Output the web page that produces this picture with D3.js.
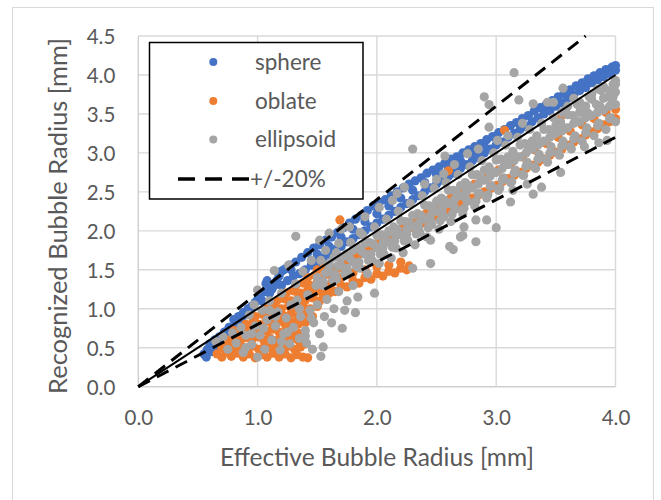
<!DOCTYPE html>
<html>
<head>
<meta charset="utf-8">
<script src="https://cdn.jsdelivr.net/npm/d3@7"></script>
<style>
  body { margin: 0; background: #fff; }
  svg { display: block; }
  text { font-family: Lato, "Open Sans", sans-serif; fill: #595959; }
</style>
</head>
<body>
<svg id="chart" width="661" height="500"></svg>
<script>
// Axis ticks
const xTicks = [0, 1, 2, 3, 4];
const yTicks = [0, 0.5, 1, 1.5, 2, 2.5, 3, 3.5, 4, 4.5];

// Legend entries
const legendLabels = ["sphere", "oblate", "ellipsoid", "+/-20%"];

// Reference lines: identity and +/-20 % bounds
const identityLine = [[0, 0], [4, 4]];
const upperBound = [[0, 0], [3.75, 4.5]];
const lowerBound = [[0, 0], [4, 3.2]];

// Effective vs. recognized bubble radius [mm]
const sphere = [
  [0.55,0.42],[0.57,0.38],[0.58,0.48],[0.6,0.55],[0.62,0.45],[0.64,0.6],[0.66,0.52],[0.68,0.64],[0.7,0.6],[0.72,0.7],
  [0.74,0.66],[0.76,0.76],[0.78,0.72],[0.8,0.86],[0.82,0.8],[0.84,0.9],[0.86,0.85],[0.88,0.95],[0.9,0.92],[0.92,1.0],
  [0.95,1.03],[0.98,1.08],[1.0,1.12],[1.02,1.16],[1.04,1.1],[1.06,1.22],[1.07,1.32],[1.08,1.36],[1.09,1.28],[1.1,1.2],
  [1.12,1.25],[1.14,1.3],[1.16,1.36],[1.18,1.42],[1.2,1.48],[1.24,1.52],[1.28,1.5],
  [1.2,1.3],[1.25,1.36],[1.3,1.42],[1.35,1.45],[1.4,1.5],[1.45,1.56],[1.5,1.6],[1.55,1.65],[1.6,1.7],[1.65,1.76],
  [1.7,1.8],[1.75,1.86],[1.8,1.9],[1.85,1.95],[1.9,2.0],[1.95,2.05],[2.0,2.1],[2.05,2.15],[2.1,2.2],[2.15,2.25],
  [2.2,2.3],[2.25,2.35],[2.3,2.4],[2.35,2.45],[2.4,2.5],[2.45,2.55],[2.5,2.6],[2.55,2.65],[2.6,2.7],[2.65,2.74],
  [2.7,2.8],[2.75,2.85],[2.8,2.9],[2.85,2.94],[2.9,3.0],[2.95,3.05],[3.0,3.1],[3.05,3.14],[3.1,3.2],[3.15,3.25],
  [3.2,3.3],[3.25,3.34],[3.3,3.4],[3.35,3.45],[3.4,3.5],[3.45,3.54],[3.5,3.6],[3.55,3.64],[3.6,3.7],[3.65,3.74],
  [3.7,3.8],[3.75,3.84],[3.8,3.9],[3.85,3.94],[3.9,3.98],[3.95,4.02],[4.0,4.06],
  [1.22,1.5],[1.27,1.56],[1.32,1.6],[1.37,1.66],[1.42,1.72],[1.47,1.78],[1.52,1.82],[1.57,1.88],[1.62,1.92],[1.67,1.98],
  [1.72,2.04],[1.77,2.1],[1.82,2.15],[1.87,2.2],[1.92,2.26],[1.97,2.32],[2.02,2.36],[2.07,2.4],[2.12,2.45],[2.17,2.5],
  [2.22,2.55],[2.27,2.6],[2.32,2.64],[2.37,2.68],[2.42,2.74],[2.47,2.78],[2.52,2.82],[2.57,2.87],[2.62,2.92],[2.67,2.95],
  [2.72,3.0],[2.77,3.04],[2.82,3.08],[2.87,3.12],[2.92,3.17],[2.97,3.21],[3.02,3.26],[3.07,3.3],[3.12,3.35],[3.17,3.39],
  [3.22,3.44],[3.27,3.48],[3.32,3.54],[3.37,3.58],[3.42,3.62],[3.47,3.67],[3.52,3.72],[3.57,3.76],[3.62,3.81],[3.67,3.86],
  [3.72,3.9],[3.77,3.95],[3.82,3.99],[3.87,4.03],[3.92,4.07],[3.97,4.1],[4.0,4.12],
  [1.5,1.7],[1.6,1.8],[1.7,1.92],[1.8,2.02],[1.9,2.12],[2.0,2.22],[2.1,2.32],[2.2,2.42],[2.3,2.52],[2.4,2.62],
  [2.5,2.72],[2.6,2.82],[2.7,2.9],[2.8,3.0],[2.9,3.08],[3.0,3.18],[3.2,3.38],[3.4,3.56],[3.6,3.76]
];

const oblate = [
  [0.66,0.42],[0.7,0.38],[0.74,0.44],[0.78,0.39],[0.83,0.43],[0.88,0.38],[0.93,0.42],[0.98,0.37],[1.03,0.41],[1.08,0.38],
  [1.13,0.43],[1.18,0.38],[1.23,0.42],[1.28,0.37],[1.33,0.41],[1.38,0.38],[1.42,0.37],
  [0.7,0.5],[0.76,0.52],[0.81,0.49],[0.86,0.53],[0.91,0.5],[0.96,0.52],[1.01,0.48],[1.06,0.53],[1.11,0.5],[1.16,0.54],
  [1.21,0.49],[1.26,0.52],[1.31,0.48],[1.36,0.51],
  [0.74,0.6],[0.8,0.62],[0.85,0.59],[0.9,0.63],[0.95,0.6],[1.0,0.64],[1.05,0.6],[1.1,0.63],[1.15,0.59],[1.2,0.64],
  [1.25,0.6],[1.3,0.62],[1.35,0.58],[1.4,0.55],
  [0.8,0.72],[0.86,0.7],[0.92,0.73],[0.97,0.7],[1.02,0.74],[1.08,0.71],[1.13,0.74],[1.18,0.7],[1.24,0.73],[1.3,0.7],[1.35,0.68],
  [0.9,0.8],[0.96,0.83],[1.01,0.8],[1.07,0.84],[1.12,0.81],[1.18,0.84],[1.23,0.8],[1.29,0.83],[1.34,0.8],[1.4,0.82],
  [0.98,0.9],[1.04,0.93],[1.1,0.9],[1.16,0.94],[1.22,0.91],[1.28,0.94],[1.34,0.9],[1.4,0.93],[1.46,0.9],
  [1.08,1.0],[1.14,1.03],[1.2,1.0],[1.26,1.04],[1.32,1.01],[1.38,1.04],[1.44,1.0],[1.5,1.03],
  [1.16,1.1],[1.22,1.13],[1.28,1.1],[1.34,1.14],[1.4,1.11],[1.46,1.14],[1.52,1.1],
  [1.24,1.2],[1.3,1.23],[1.36,1.2],[1.42,1.24],[1.48,1.21],[1.54,1.24],[1.6,1.2],
  [1.32,1.3],[1.38,1.33],[1.44,1.3],[1.5,1.34],[1.56,1.3],[1.62,1.33],
  [1.42,1.4],[1.48,1.43],[1.54,1.4],[1.6,1.44],[1.66,1.4],
  [1.5,1.5],[1.56,1.53],[1.62,1.5],
  [1.55,1.18],[1.6,1.25],[1.65,1.22],[1.7,1.3],[1.75,1.28],[1.8,1.36],[1.85,1.33],[1.9,1.4],[1.95,1.38],[2.0,1.45],
  [2.05,1.42],[2.1,1.48],[2.15,1.46],[2.2,1.52],[2.25,1.5],[2.27,1.55],[1.7,1.4],[1.8,1.46],[1.9,1.5],[2.0,1.54],
  [2.1,1.56],[2.2,1.6],[1.66,1.5],[1.72,1.52],
  [1.7,1.58],[1.75,1.62],[1.8,1.66],[1.85,1.7],[1.9,1.74],[1.95,1.78],[2.0,1.8],[2.05,1.84],[2.1,1.88],[2.15,1.92],
  [2.2,1.96],[2.25,2.0],[2.3,2.04],[2.35,2.08],[2.4,2.1],[2.45,2.14],[2.5,2.18],[2.55,2.22],[2.6,2.26],[2.65,2.3],
  [2.7,2.34],[2.75,2.38],[2.8,2.42],[2.85,2.46],[2.9,2.5],[2.95,2.54],[3.0,2.58],[3.05,2.63],[3.1,2.67],[3.15,2.71],
  [3.2,2.75],[3.25,2.8],[3.3,2.84],[3.35,2.88],[3.4,2.92],[3.45,2.97],[3.5,3.01],[3.55,3.05],[3.6,3.1],[3.65,3.14],
  [3.7,3.18],[3.75,3.23],[3.8,3.27],[3.85,3.31],[3.9,3.36],[3.95,3.4],[4.0,3.44],
  [1.72,1.66],[1.82,1.74],[1.92,1.84],[2.02,1.9],[2.12,1.98],[2.22,2.06],[2.32,2.14],[2.42,2.24],[2.52,2.32],[2.62,2.42],
  [2.72,2.5],[2.82,2.6],[2.92,2.68],[3.02,2.78],[3.12,2.86],[3.22,2.95],[3.32,3.04],[3.42,3.12],[3.52,3.2],[3.62,3.28],
  [3.72,3.36],[3.82,3.44],[3.92,3.52],[4.0,3.56],
  [1.69,2.14],[2.6,2.77],[3.07,3.29],[3.55,3.48]
];

const ellipsoid = [
  [0.65,0.58],[0.71,0.64],[0.75,0.48],[0.79,0.69],[0.82,0.56],[0.86,0.76],[0.88,0.44],[0.9,0.66],[0.93,0.92],[0.95,0.54],
  [0.97,1.05],[0.98,0.78],[1.0,0.38],[1.0,1.24],[1.02,0.66],[1.04,0.98],[1.06,0.48],[1.08,0.86],[1.1,1.1],[1.12,0.6],
  [1.14,1.49],[1.15,0.78],[1.17,0.96],[1.19,0.47],[1.2,1.2],[1.22,0.68],[1.24,0.88],[1.26,1.56],[1.27,0.55],[1.28,1.05],
  [1.3,0.76],[1.32,1.32],[1.32,1.93],[1.33,1.11],[1.35,0.62],[1.36,0.9],[1.38,1.48],[1.4,0.72],[1.41,0.56],[1.42,1.18],
  [1.44,0.98],[1.45,1.62],[1.46,0.48],[1.47,0.82],[1.49,1.3],[1.5,1.05],[1.52,0.68],[1.53,0.39],[1.55,0.51],[1.56,0.9],
  [1.58,1.12],[1.6,1.58],[1.62,0.82],[1.64,1.0],[1.66,1.72],[1.68,1.22],[1.71,0.75],[1.73,0.98],[1.75,1.1],[1.78,1.85],
  [1.8,1.3],[1.82,0.95],[1.84,1.15],[1.86,1.98],
  [0.9,0.5],[1.05,0.75],[1.15,0.9],[1.25,0.7],[1.35,1.0],[1.4,0.65],[1.45,0.88],[1.2,0.58],[1.1,0.98],[0.95,0.68],
  [1.5,1.4],[1.53,1.62],[1.55,1.3],[1.57,1.75],[1.6,1.48],[1.64,1.66],[1.66,1.38],[1.68,1.84],[1.7,1.55],[1.74,1.7],
  [1.76,1.45],[1.8,1.6],[1.84,1.78],[1.86,1.52],[1.88,1.95],[1.9,1.7],[1.92,1.45],[1.94,1.85],[1.96,1.62],[1.98,1.2],
  [1.98,2.05],[2.0,1.78],[2.02,1.58],[2.04,1.95],[2.06,1.7],[2.08,2.15],[2.1,1.85],[2.12,1.65],[2.14,2.05],[2.16,1.78],
  [2.18,2.25],[2.2,1.95],[2.22,1.72],[2.24,2.12],[2.26,1.88],[2.28,2.35],[2.3,2.05],[2.3,1.52],[2.3,3.05],[2.32,1.82],
  [2.34,2.22],[2.36,1.98],[2.38,2.45],[2.4,2.15],[2.42,1.92],[2.44,2.32],[2.45,1.58],[2.46,2.08],[2.48,2.55],[2.5,2.25],
  [2.52,2.02],[2.54,2.42],[2.56,2.18],[2.57,2.96],[2.58,2.62],[2.6,2.35],[2.62,2.12],[2.64,2.52],[2.64,1.76],[2.66,2.28],
  [2.68,2.72],[2.7,2.45],[2.72,2.22],[2.72,1.94],[2.73,2.05],[2.74,2.62],[2.76,2.38],[2.78,2.82],[2.8,2.55],[2.82,2.32],
  [2.83,1.86],[2.83,2.14],[2.84,2.72],[2.86,2.48],[2.88,2.9],[2.9,2.65],[2.9,3.72],[2.92,2.42],[2.94,2.82],[2.94,3.62],
  [2.94,3.33],[2.96,2.58],[2.98,3.0],[3.0,2.75],[3.0,2.04],
  [3.02,2.52],[3.04,2.92],[3.06,2.68],[3.08,3.1],[3.1,2.85],[3.12,2.37],[3.12,2.62],[3.14,3.02],[3.15,4.03],[3.16,2.78],
  [3.18,3.2],[3.19,3.68],[3.2,2.95],[3.22,2.72],[3.24,3.12],[3.26,2.88],[3.28,3.3],[3.3,3.05],[3.31,2.47],[3.32,2.82],
  [3.34,3.22],[3.36,2.98],[3.38,2.56],[3.38,3.38],[3.4,3.15],[3.42,2.92],[3.43,3.65],[3.44,3.3],[3.46,3.08],[3.48,3.45],
  [3.5,3.25],[3.54,2.75],
  [3.52,3.0],[3.54,3.4],[3.56,3.15],[3.58,3.55],[3.6,3.32],[3.62,3.08],[3.64,3.48],[3.66,3.22],[3.68,3.62],[3.7,3.4],
  [3.72,3.15],[3.74,3.55],[3.74,3.08],[3.76,3.32],[3.78,3.72],[3.8,3.48],[3.82,3.22],[3.84,3.62],[3.86,3.38],[3.86,3.13],
  [3.88,3.8],[3.9,3.55],[3.92,3.3],[3.93,3.16],[3.94,3.72],[3.96,3.45],[3.98,3.88],[3.98,3.72],[4.0,3.62],[4.0,3.78],
  [4.0,3.93],[4.0,3.4],
  [2.05,1.85],[2.15,1.95],[2.25,2.02],[2.35,2.1],[2.45,2.2],[2.55,2.3],[2.65,2.4],[2.75,2.5],[2.85,2.6],[2.95,2.7],
  [3.05,2.8],[3.15,2.9],[3.25,3.0],[3.35,3.1],[3.45,3.2],[3.55,3.28],[3.65,3.38],[3.75,3.45],[3.85,3.52],[3.95,3.6],
  [2.1,2.0],[2.3,2.2],[2.5,2.38],[2.7,2.58],[2.9,2.78],[3.1,2.95],[3.3,3.15],[3.5,3.35],[3.7,3.52],[3.9,3.7],
  [3.6,3.6],[3.7,3.65],[3.8,3.75],[3.9,3.85],[3.55,3.52],[3.65,3.7],[3.75,3.6],[3.85,3.82],[3.95,3.8],
  [1.52,1.88],[1.6,1.97],[1.7,2.02],[1.77,2.05],[1.9,2.18],[2.02,2.3],[2.13,2.39],[2.17,2.48],[2.23,2.56],[2.4,2.6],
  [2.5,2.66],[2.56,2.73],[2.65,2.85],[2.76,2.99],[2.85,3.05],[3.01,3.16],[3.1,3.22],[3.22,3.38],[3.31,3.63],[3.48,3.65],
  [3.56,3.83],[2.45,1.88],[2.61,1.8],[2.7,1.92],[2.92,2.14],[3.14,2.52],[3.26,2.6],
  [1.55,1.35],[1.65,1.44],[1.75,1.52],[1.85,1.6],[1.95,1.7],[2.05,1.78],[2.15,1.87],[2.25,1.96],[2.35,2.04],[2.45,2.13],
  [2.55,2.22],[2.65,2.3],[2.75,2.4],[2.85,2.48],[2.95,2.57],[3.05,2.65],[3.15,2.74],[3.25,2.83],[3.35,2.92],[3.45,3.0],
  [3.55,3.09],[3.65,3.18],[3.75,3.26],[3.85,3.35],[3.95,3.44],
  [1.6,1.55],[1.7,1.65],[1.8,1.75],[1.9,1.84],[2.0,1.94],[2.2,2.13],[2.4,2.33],[2.6,2.52],[2.8,2.72],[3.0,2.91],
  [3.2,3.1],[3.4,3.3],[3.6,3.49],[3.8,3.69],[4.0,3.88],
  [1.63,1.37],[1.73,1.45],[1.83,1.54],[1.93,1.62],[2.03,1.7],[2.13,1.79],[2.23,1.87],[2.33,1.96],[2.43,2.04],[2.53,2.13],
  [2.63,2.21],[2.73,2.29],[2.83,2.38],[2.93,2.46],[3.03,2.55],[3.13,2.63],[3.23,2.71],[3.33,2.8],[3.43,2.88],[3.53,2.97],
  [3.63,3.05],
  [1.57,1.46],[1.67,1.55],[1.77,1.65],[1.87,1.74],[1.97,1.83],[2.07,1.93],[2.17,2.02],[2.27,2.11],[2.37,2.2],[2.47,2.3],
  [2.57,2.39],[2.67,2.48],[2.77,2.58],[2.87,2.67],[2.97,2.76],[3.07,2.86],[3.17,2.95],[3.27,3.04],[3.37,3.13],[3.47,3.23],
  [3.57,3.32],[3.67,3.41],[3.77,3.51],[3.87,3.6],[3.97,3.69]
];

const seriesList = [
  { name: "sphere", data: sphere, color: "#4472C4" },
  { name: "oblate", data: oblate, color: "#ED7D31" },
  { name: "ellipsoid", data: ellipsoid, color: "#A5A5A5" }
];

const svg = d3.select("#chart");
const plot = { left: 138.3, right: 615.5, top: 36, bottom: 386.7 };

const x = d3.scaleLinear().domain([0, 4]).range([plot.left, plot.right]);
const y = d3.scaleLinear().domain([0, 4.5]).range([plot.bottom, plot.top]);

// chart frame
svg.append("rect")
  .attr("x", 12.5).attr("y", 7.5).attr("width", 641).attr("height", 510)
  .attr("fill", "#fff").attr("stroke", "#d9d9d9").attr("stroke-width", 1);

// gridlines
const grid = svg.append("g");
grid.selectAll("line.h").data(yTicks).join("line")
  .attr("x1", plot.left).attr("x2", plot.right)
  .attr("y1", d => y(d)).attr("y2", d => y(d))
  .attr("stroke", d => d === 0 ? "#cfcfcf" : "#d9d9d9").attr("stroke-width", 1.4);
grid.selectAll("line.v").data(xTicks).join("line")
  .attr("y1", plot.top).attr("y2", plot.bottom)
  .attr("x1", d => x(d)).attr("x2", d => x(d))
  .attr("stroke", d => d === 0 ? "#cfcfcf" : "#d9d9d9").attr("stroke-width", 1.4);

// axes (labels only; lines come from the grid)
const xAxis = d3.axisBottom(x).tickValues(xTicks).tickFormat(d3.format(".1f")).tickSize(0).tickPadding(0);
const yAxis = d3.axisLeft(y).tickValues(yTicks).tickFormat(d3.format(".1f")).tickSize(0).tickPadding(0);

const gx = svg.append("g").attr("transform", `translate(0,${plot.bottom + 31})`).call(xAxis);
gx.select(".domain").remove();
gx.selectAll("text").attr("dy", "0.35em").attr("y", 0)
  .style("font-size", "20.5px").style("fill", "#595959");

const gy = svg.append("g").attr("transform", `translate(${plot.left - 23},0)`).call(yAxis);
gy.select(".domain").remove();
gy.selectAll("text").attr("dy", "0.36em").attr("x", 0)
  .style("font-size", "20.5px").style("fill", "#595959");

// axis titles
svg.append("text")
  .attr("x", 377).attr("y", 466)
  .attr("text-anchor", "middle")
  .style("font-size", "24.5px")
  .text("Effective Bubble Radius [mm]");
svg.append("text")
  .attr("transform", "translate(67,216) rotate(-90)")
  .attr("text-anchor", "middle")
  .style("font-size", "25.5px")
  .text("Recognized Bubble Radius [mm]");

// series points
const pts = svg.append("g");
seriesList.forEach(s => {
  pts.append("g").selectAll("circle").data(s.data).join("circle")
    .attr("cx", d => x(d[0])).attr("cy", d => y(d[1])).attr("r", 4.6)
    .attr("fill", s.color);
});

// reference lines
const line = d3.line().x(d => x(d[0])).y(d => y(d[1]));
svg.append("path").datum(identityLine).attr("d", line)
  .attr("fill", "none").attr("stroke", "#000").attr("stroke-width", 2);
[upperBound, lowerBound].forEach(b => {
  svg.append("path").datum(b).attr("d", line)
    .attr("fill", "none").attr("stroke", "#000").attr("stroke-width", 3)
    .attr("stroke-dasharray", "13,8");
});

// legend
const lg = svg.append("g");
lg.append("rect")
  .attr("x", 149.5).attr("y", 42.5).attr("width", 213.5).attr("height", 156.5)
  .attr("fill", "#fff").attr("stroke", "#000").attr("stroke-width", 1.5);
const rowY = [62, 101, 139.5, 179];
seriesList.forEach((s, i) => {
  lg.append("circle").attr("cx", 213.3).attr("cy", rowY[i]).attr("r", 4).attr("fill", s.color);
});
lg.append("line")
  .attr("x1", 178).attr("x2", 249).attr("y1", rowY[3]).attr("y2", rowY[3])
  .attr("stroke", "#000").attr("stroke-width", 3.5).attr("stroke-dasharray", "17,10");
lg.selectAll("text").data(legendLabels).join("text")
  .attr("x", (d, i) => i === 3 ? 250 : 255)
  .attr("y", (d, i) => rowY[i])
  .attr("dy", "0.35em")
  .style("font-size", "22.5px")
  .text(d => d);
</script>
</body>
</html>
